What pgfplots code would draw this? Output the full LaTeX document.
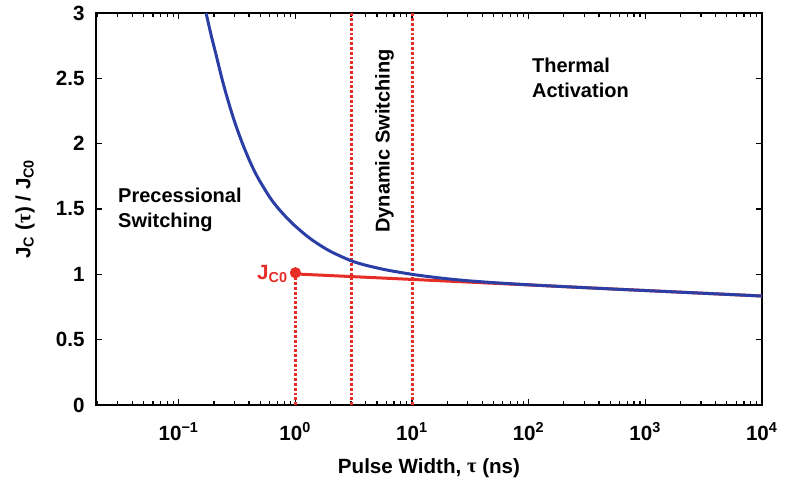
\documentclass[border=0pt]{standalone}
\usepackage{fontspec}
\setmainfont{Liberation Sans}
\newfontfamily\symfont{Liberation Serif}
\usepackage{pgfplots}
\pgfplotsset{compat=1.18}
\definecolor{cblue}{RGB}{42,62,165}
\definecolor{cred}{RGB}{230,45,38}
\begin{document}
\begin{tikzpicture}
\path[use as bounding box] (-48pt,-38pt) rectangle (345pt,202.5pt);
\begin{axis}[
  at={(0,0)}, anchor=south west,
  scale only axis, width=333pt, height=196pt,
  xmode=log, xmin=0.0195, xmax=10000, ymin=0, ymax=3,
  ytick={0,0.5,1,1.5,2,2.5,3},
  yticklabels={0,0.5,1,1.5,2,2.5,3},
  xtick={0.1,1,10,100,1000,10000},
  xticklabels={10\textsuperscript{−1},10\textsuperscript{0},10\textsuperscript{1},10\textsuperscript{2},10\textsuperscript{3},10\textsuperscript{4}},
  minor xtick={0.02,0.03,0.04,0.05,0.06,0.07,0.08,0.09,0.2,0.3,0.4,0.5,0.6,0.7,0.8,0.9,2,3,4,5,6,7,8,9,20,30,40,50,60,70,80,90,200,300,400,500,600,700,800,900,2000,3000,4000,5000,6000,7000,8000,9000},
  tick align=inside,
  major tick length=3pt, minor tick length=1.8pt,
  every tick/.style={black, line width=0.6pt},
  axis line style={line width=0.8pt},
  font=\bfseries\fontsize{10}{12.5}\selectfont,
  tick label style={font=\bfseries\fontsize{10.3}{12}\selectfont},
  yticklabel style={xshift=-2.2pt},
  xticklabel style={anchor=base, yshift=-17.5pt},
  /pgf/number format/assume math mode=true,
  xlabel={Pulse Width, {\symfont τ} (ns)},
  ylabel={J\textsubscript{C} ({\symfont τ}) / J\textsubscript{C0}},
  label style={font=\bfseries\fontsize{10.3}{12}\selectfont},
  xlabel style={at={(axis description cs:0.5,0)}, anchor=base, yshift=-34pt},
  ylabel style={at={(axis description cs:-0.1066,0.5)}, anchor=center, rotate=0},
  clip=true,
]
\addplot[cred, line width=1.5pt, dash pattern=on 1.4pt off 1pt] coordinates {(1,0) (1,1.01)};
\addplot[cred, line width=1.5pt, dash pattern=on 1.4pt off 1pt] coordinates {(3,0) (3,3)};
\addplot[cred, line width=1.5pt, dash pattern=on 1.4pt off 1pt] coordinates {(10,0) (10,3)};
\addplot[cred, line width=1.5pt] coordinates {(1,1.003) (10,0.961) (100,0.919) (1000,0.876) (10000,0.834)};
\addplot[cred, only marks, mark=*, mark size=2.6pt] coordinates {(1,1.012)};
\addplot[cblue, line width=1.5pt, smooth, tension=0.5] coordinates {
(0.16,3.139) (0.17,3.014) (0.19,2.825) (0.21,2.671) (0.23,2.526) (0.25,2.405)
(0.28,2.255) (0.31,2.134) (0.35,2.005) (0.40,1.879) (0.45,1.781) (0.50,1.707)
(0.60,1.592) (0.70,1.513) (0.85,1.429) (1.0,1.368) (1.25,1.294) (1.5,1.243)
(2.0,1.175) (3.0,1.104) (4.0,1.070) (6.0,1.034) (10,1.000) (15,0.979)
(20,0.966) (30,0.951) (50,0.9365) (100,0.920) (200,0.906) (500,0.8885)
(1000,0.876) (3000,0.856) (10000,0.834)};
\node[anchor=west, align=left, inner sep=0pt, font=\bfseries\fontsize{10}{12.5}\selectfont] at (axis cs:0.03,1.49) {Precessional\\Switching};
\node[rotate=90, font=\bfseries\fontsize{10}{12.5}\selectfont] at (axis cs:5.8,2.02) {Dynamic Switching};
\node[anchor=west, align=left, inner sep=0pt, font=\bfseries\fontsize{10}{12.5}\selectfont] at (axis cs:106,2.50) {Thermal\\Activation};
\node[anchor=east, inner sep=0pt, text=cred, font=\bfseries\fontsize{10.3}{12}\selectfont] at (axis cs:1,1.0) [xshift=-3.5pt] {J\textsubscript{C0}};
\end{axis}
\end{tikzpicture}
\end{document}
